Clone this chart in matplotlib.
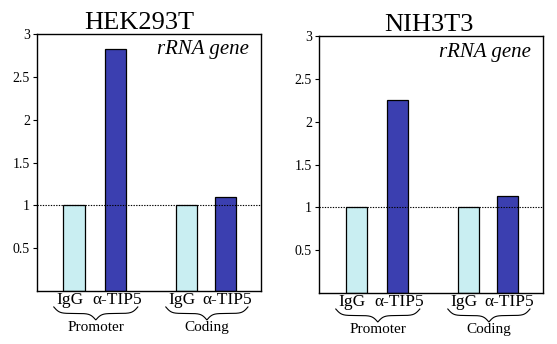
import numpy as np
import matplotlib
matplotlib.use("Agg")
import matplotlib.pyplot as plt
import matplotlib.transforms as mtransforms

plt.rcParams['font.family'] = ['Liberation Serif', 'DejaVu Serif']

# enrichment relative to IgG (set to 1)
cell_lines = ["HEK293T", "NIH3T3"]
conditions = ["IgG", "α-TIP5", "IgG", "α-TIP5"]
regions = ["Promoter", "Coding"]
hek_values = [1.0, 2.82, 1.0, 1.10]
nih_values = [1.0, 2.26, 1.0, 1.13]
yticks = [0.5, 1, 1.5, 2, 2.5, 3]

positions = [1.0, 2.1, 4.0, 5.05]
label_shift = [-0.12, 0.04, -0.12, 0.04]
title_x = [0.455, 0.49]
colors = ["#c9eef2", "#3b3fb0", "#c9eef2", "#3b3fb0"]


def brace(ax, x0, x1, y, h):
    # horizontal curly brace, opening upwards, in (data x, axes y)
    tr = mtransforms.blended_transform_factory(ax.transData, ax.transAxes)
    xs = np.linspace(x0, x1, 300)
    half = (x1 - x0) / 2.0
    beta = 30.0 / (x1 - x0)
    left = xs[xs <= x0 + half]
    right = xs[xs > x0 + half]
    yl = 1 / (1 + np.exp(-beta * (left - x0))) + 1 / (1 + np.exp(-beta * (left - x0 - half)))
    yr = 1 / (1 + np.exp(-beta * (x1 - right))) + 1 / (1 + np.exp(-beta * (x1 - right - half)))
    ys = np.concatenate([yl, yr])
    ys = y - (ys - ys.min()) / (ys.max() - ys.min()) * h
    ax.plot(xs, ys, color="black", lw=0.8, transform=tr, clip_on=False)


fig = plt.figure(figsize=(5.57, 3.44), dpi=100)
axes = [fig.add_axes([0.0664, 0.154, 0.4022, 0.747]),
        fig.add_axes([0.5727, 0.148, 0.4022, 0.747])]

for ax, name, vals, tx in zip(axes, cell_lines, [hek_values, nih_values], title_x):
    ax.bar(positions, vals, width=0.58, color=colors, edgecolor="black", linewidth=0.9, zorder=2)
    ax.axhline(1, color="black", lw=0.8, ls=(0, (1.2, 1.2)), zorder=3)
    ax.set_xlim(0, 6)
    ax.set_ylim(0, 3)
    ax.set_yticks(yticks)
    ax.set_yticklabels([f"{t:g}" for t in yticks], fontsize=10)
    ax.set_xticks([])
    ax.tick_params(axis="y", direction="out", length=3, width=0.8, pad=2)
    for s in ax.spines.values():
        s.set_linewidth(1.0)
    ax.set_title(name, fontsize=19, pad=-1, x=tx)
    ax.text(0.945, 0.975, "rRNA gene", transform=ax.transAxes, ha="right", va="top",
            fontsize=15, style="italic")

    tr = mtransforms.blended_transform_factory(ax.transData, ax.transAxes)
    for x, dx, lab in zip(positions, label_shift, conditions):
        ax.text(x + dx, -0.005, lab, transform=tr, ha="center", va="top", fontsize=12.5)
    for i, reg in enumerate(regions):
        x0 = positions[2 * i] - 0.55
        x1 = positions[2 * i + 1] + 0.6
        brace(ax, x0, x1, -0.062, 0.05)
        ax.text((x0 + x1) / 2, -0.116, reg, transform=tr, ha="center", va="top", fontsize=11)

fig.savefig("out.png", dpi=100)
